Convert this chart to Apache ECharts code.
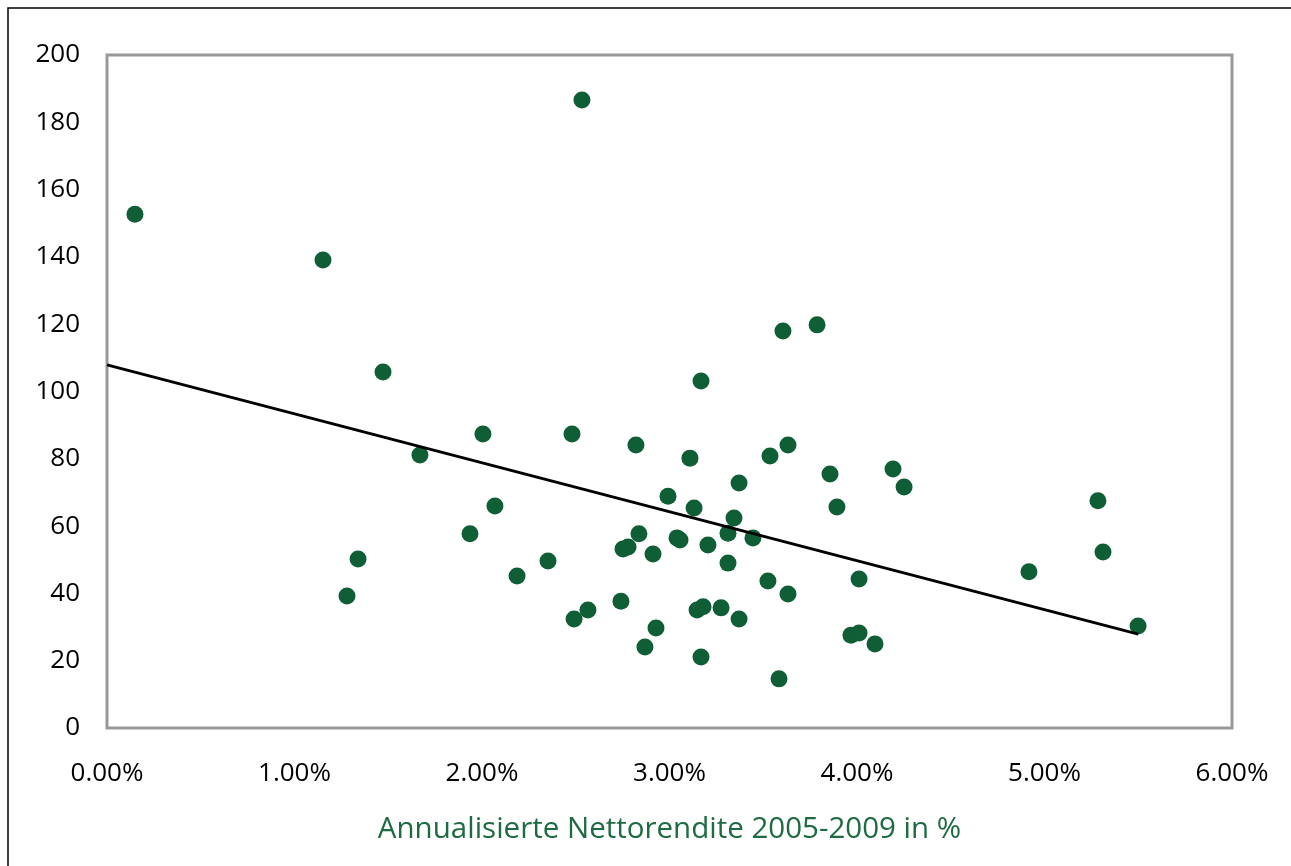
<!DOCTYPE html>
<html>
<head>
<meta charset="utf-8">
<script src="https://cdn.jsdelivr.net/npm/echarts@6/dist/echarts.min.js"></script>
<style>
  html, body { margin: 0; padding: 0; background: #fff; }
  #chart { width: 1291px; height: 866px; }
</style>
</head>
<body>
<div id="chart"></div>
<script>
// Nettorendite (in %) und y-Wert je Fonds
var renditeX = [0.149, 1.152, 1.472, 1.280, 1.339, 1.669, 2.005, 1.936, 2.069, 2.187,
  2.352, 2.533, 2.480, 2.491, 2.565, 2.741, 2.821, 2.752, 2.779, 2.837,
  2.869, 2.912, 2.928, 2.992, 3.040, 3.056, 3.109, 3.131, 3.147, 3.179,
  3.168, 3.168, 3.205, 3.275, 3.312, 3.312, 3.344, 3.371, 3.371, 3.445,
  3.525, 3.536, 3.584, 3.605, 3.632, 3.632, 3.787, 3.856, 3.893, 3.968,
  4.011, 4.011, 4.096, 4.192, 4.251, 4.917, 5.285, 5.312, 5.499];
var wertY = [152.7, 139.1, 105.8, 39.2, 50.2, 81.1, 87.4, 57.7, 66.0, 45.2,
  49.6, 186.6, 87.4, 32.4, 35.1, 37.7, 84.1, 53.2, 53.8, 57.7,
  24.1, 51.7, 29.7, 68.9, 56.5, 55.9, 80.2, 65.4, 35.1, 36.0,
  103.1, 21.1, 54.4, 35.7, 57.9, 49.0, 62.4, 32.4, 72.8, 56.5,
  43.7, 80.8, 14.6, 118.0, 84.1, 39.8, 119.8, 75.5, 65.7, 27.6,
  28.2, 44.3, 25.0, 77.0, 71.6, 46.4, 67.5, 52.3, 30.3];

// Trendlinie, Endpunkte
var trendX = [0, 5.5];
var trendY = [107.9, 27.9];

var xTicks = [0, 1, 2, 3, 4, 5, 6];
var yTicks = [0, 20, 40, 60, 80, 100, 120, 140, 160, 180, 200];
var xTitle = 'Annualisierte Nettorendite 2005-2009 in %';

var punkte = renditeX.map(function (x, i) { return [x, wertY[i]]; });
var trendData = trendX.map(function (x, i) { return [x, trendY[i]]; });

var font = 'Open Sans';
var myChart = echarts.init(document.getElementById('chart'));
myChart.setOption({
  animation: false,
  backgroundColor: '#fff',
  graphic: [{
    type: 'rect',
    shape: { x: 8, y: 8, width: 1400, height: 1000 },
    style: { fill: 'none', stroke: '#000', lineWidth: 1.5 },
    silent: true
  }],
  grid: {
    left: 107, top: 55, right: 59, bottom: 138,
    show: true,
    borderColor: '#999',
    borderWidth: 3
  },
  xAxis: {
    type: 'value',
    min: xTicks[0], max: xTicks[xTicks.length - 1], interval: 1,
    axisLine: { show: false },
    axisTick: { show: false },
    splitLine: { show: false },
    axisLabel: {
      margin: 33,
      color: '#000',
      fontFamily: font,
      fontSize: 26,
      formatter: function (v) { return v.toFixed(2) + '%'; }
    },
    name: xTitle,
    nameLocation: 'middle',
    nameGap: 87,
    nameTextStyle: { color: '#1d6b40', fontFamily: font, fontSize: 29.5 }
  },
  yAxis: {
    type: 'value',
    min: yTicks[0], max: yTicks[yTicks.length - 1], interval: 20,
    axisLine: { show: false },
    axisTick: { show: false },
    splitLine: { show: false },
    axisLabel: { margin: 27, color: '#000', fontFamily: font, fontSize: 26 }
  },
  series: [{
    type: 'scatter',
    data: punkte,
    symbolSize: 17,
    itemStyle: { color: '#0f5e36', opacity: 1 },
    z: 2
  }, {
    type: 'line',
    data: trendData,
    symbol: 'none',
    lineStyle: { color: '#000', width: 3 },
    z: 3
  }]
});
</script>
</body>
</html>
